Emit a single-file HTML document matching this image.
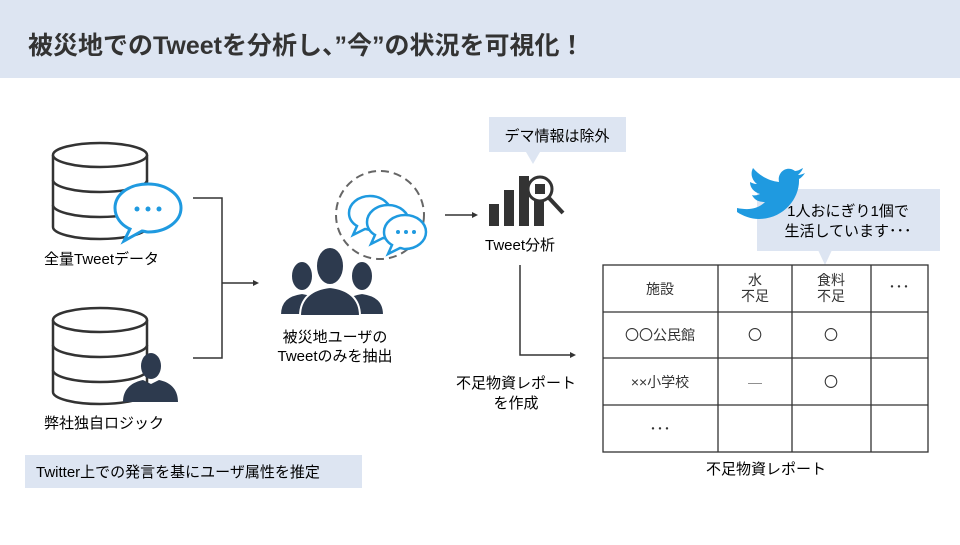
<!DOCTYPE html>
<html><head><meta charset="utf-8"><style>
body{margin:0;width:960px;height:540px;background:#fff;overflow:hidden;font-family:"Liberation Sans","Noto Sans CJK JP",sans-serif;color:#333}
</style></head><body>
<svg width="960" height="540" viewBox="0 0 960 540" xmlns="http://www.w3.org/2000/svg" font-family="Liberation Sans, Noto Sans CJK JP, sans-serif">
<rect x="0" y="0" width="960" height="78" fill="#dde5f2"/>
<text x="28" y="54" font-size="25" font-weight="bold" fill="#333">被災地でのTweetを分析し、”今”の状況を可視化！</text>

<!-- DB1 -->
<g fill="#fff" stroke="#333" stroke-width="2.5">
<path d="M53 155 v72 a47 12 0 0 0 94 0 v-72"/>
<ellipse cx="100" cy="155" rx="47" ry="12"/>
<path d="M53 180 a47 12 0 0 0 94 0 M53 205 a47 12 0 0 0 94 0"/>
</g>
<g>
<path d="M148 184 c-20 0 -33 11 -33 24 c0 9 6 17 15 21 l-6 12 l18 -10 c2 0 4 1 6 1 c19 0 33 -11 33 -24 c0 -13 -14 -24 -33 -24z" fill="#fff" stroke="#1f9ae0" stroke-width="3"/>
<circle cx="137" cy="209" r="2.5" fill="#1f9ae0"/><circle cx="148" cy="209" r="2.5" fill="#1f9ae0"/><circle cx="159" cy="209" r="2.5" fill="#1f9ae0"/>
</g>
<text x="44" y="264" font-size="15">全量Tweetデータ</text>

<!-- DB2 -->
<g fill="#fff" stroke="#333" stroke-width="2.5">
<path d="M53 320 v72 a47 12 0 0 0 94 0 v-72"/>
<ellipse cx="100" cy="320" rx="47" ry="12"/>
<path d="M53 345 a47 12 0 0 0 94 0 M53 370 a47 12 0 0 0 94 0"/>
</g>
<g fill="#2d3a4e">
<ellipse cx="151" cy="366" rx="10" ry="13"/>
<path d="M123 402 c0 -14 10 -20 20 -22 l8 4 l8 -4 c10 2 19 8 19 22z"/>
</g>
<text x="44" y="428" font-size="15">弊社独自ロジック</text>
<rect x="25" y="455" width="337" height="33" fill="#dde5f2"/>
<text x="36" y="477" font-size="15">Twitter上での発言を基にユーザ属性を推定</text>

<!-- bracket -->
<g stroke="#333" stroke-width="1.5" fill="none">
<path d="M193 198 H222 V358 H193"/>
<path d="M222 283 H255"/>
</g>
<path d="M259 283 l-6 -3 v6z" fill="#333"/>

<!-- people -->
<circle cx="380" cy="215" r="44" fill="none" stroke="#666" stroke-width="2" stroke-dasharray="8 5"/>
<g fill="#fff" stroke="#1f9ae0" stroke-width="2.5">
<path d="M370 196 c-12 0 -21 8 -21 17 c0 6 3 10 8 13 l-4 9 l12 -6 c2 0 3 1 5 1 c12 0 21 -8 21 -17 c0 -9 -9 -17 -21 -17z"/>
<path d="M388 205 c-12 0 -21 8 -21 17 c0 6 3 10 8 13 l-4 9 l12 -6 c2 0 3 1 5 1 c12 0 21 -8 21 -17 c0 -9 -9 -17 -21 -17z"/>
<path d="M405 215 c-12 0 -21 8 -21 17 c0 6 3 10 8 13 l-4 9 l12 -6 c2 0 3 1 5 1 c12 0 21 -8 21 -17 c0 -9 -9 -17 -21 -17z"/>
</g>
<g fill="#1f9ae0"><circle cx="398" cy="232" r="2"/><circle cx="406" cy="232" r="2"/><circle cx="414" cy="232" r="2"/></g>
<g fill="#2d3a4e" stroke="#fff" stroke-width="2">
<ellipse cx="302" cy="276" rx="11" ry="15"/>
<path d="M280 315 c0 -14 8 -20 22 -22 c14 2 22 8 22 22z"/>
<ellipse cx="362" cy="276" rx="11" ry="15"/>
<path d="M340 315 c0 -14 8 -20 22 -22 c14 2 22 8 22 22z"/>
<ellipse cx="330" cy="266" rx="14" ry="19"/>
<path d="M300 316 c0 -18 12 -27 30 -29 c18 2 30 11 30 29z"/>
</g>
<text x="335" y="342" font-size="15" text-anchor="middle">被災地ユーザの</text>
<text x="335" y="361" font-size="15" text-anchor="middle">Tweetのみを抽出</text>

<path d="M445 215 H474" stroke="#333" stroke-width="1.5"/>
<path d="M478 215 l-6 -3 v6z" fill="#333"/>

<!-- demo bubble -->
<rect x="489" y="117" width="137" height="35" fill="#dde5f2"/>
<path d="M526 152 l7 12 l7 -12z" fill="#dde5f2"/>
<text x="557" y="141" font-size="15" text-anchor="middle">デマ情報は除外</text>

<!-- chart -->
<g fill="#333">
<rect x="489" y="204" width="10" height="22"/>
<rect x="504" y="190" width="10" height="36"/>
<rect x="519" y="176" width="10" height="50"/>
<rect x="534" y="200" width="10" height="26"/>
</g>
<circle cx="540" cy="189" r="12" fill="#fff" stroke="#333" stroke-width="3"/>
<rect x="535" y="184" width="10" height="10" fill="#333"/>
<path d="M549 198 L563 213" stroke="#333" stroke-width="4"/>
<text x="520" y="250" font-size="15" text-anchor="middle">Tweet分析</text>

<path d="M520 265 V355 H572" stroke="#333" stroke-width="1.5" fill="none"/>
<path d="M576 355 l-6 -3 v6z" fill="#333"/>
<text x="516" y="388" font-size="15" text-anchor="middle">不足物資レポート</text>
<text x="516" y="408" font-size="15" text-anchor="middle">を作成</text>

<!-- twitter bubble -->
<rect x="757" y="189" width="183" height="62" fill="#dde5f2"/>
<path d="M818 250 l7 15 l7 -15z" fill="#dde5f2"/>
<text x="848" y="216" font-size="15" text-anchor="middle">1人おにぎり1個で</text>
<text x="848" y="236" font-size="15" text-anchor="middle">生活しています･･･</text>
<path d="M737 208 c10 2 20 2 28 -6 c-8 0 -11 -3 -13 -7 c3 1 6 0 8 -1 c-6 -2 -10 -6 -10 -12 c2 1 4 2 7 2 c-5 -4 -7 -10 -4 -16 c7 8 16 13 26 14 c-2 -10 8 -17 16 -11 c3 0 6 -2 8 -3 c-1 3 -3 5 -5 7 c2 0 5 -1 7 -2 c-2 3 -4 5 -6 6 c1 20 -16 40 -40 40 c-8 0 -16 -3 -22 -7z" fill="#1f9ae0" transform="translate(0,0)"/>

<!-- table -->
<g stroke="#333" stroke-width="1.3" fill="none">
<rect x="603" y="265" width="325" height="187"/>
<path d="M603 312 H928 M603 358 H928 M603 405 H928 M718 265 V452 M792 265 V452 M871 265 V452"/>
</g>
<g font-size="14" text-anchor="middle" fill="#333">
<text x="660" y="294">施設</text>
<text x="755" y="285">水</text><text x="755" y="301">不足</text>
<text x="831" y="285">食料</text><text x="831" y="301">不足</text>
<text x="899" y="292">･･･</text>
<text x="660" y="340">〇〇公民館</text>
<text x="755" y="340">〇</text><text x="831" y="340">〇</text>
<text x="660" y="387">××小学校</text>
<text x="755" y="387" fill="#888">—</text><text x="831" y="387">〇</text>
<text x="660" y="434">･･･</text>
</g>
<text x="766" y="474" font-size="15" text-anchor="middle">不足物資レポート</text>
</svg>
</body></html>
